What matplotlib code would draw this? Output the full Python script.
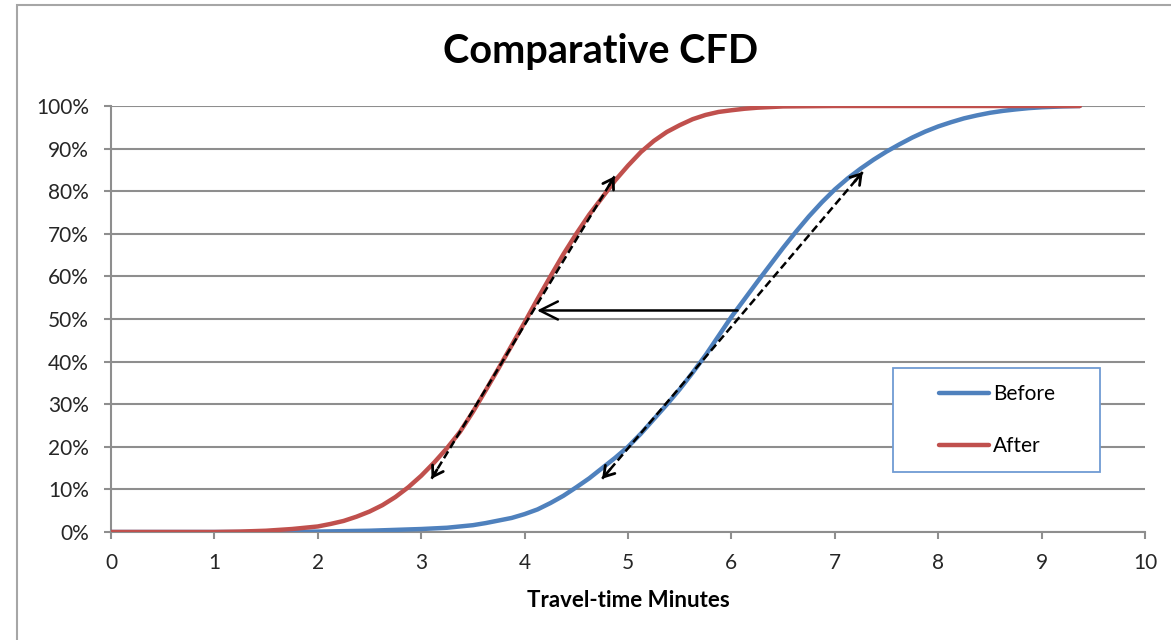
import numpy as np
import matplotlib
matplotlib.use('Agg')
import matplotlib.pyplot as plt
from matplotlib.patches import Rectangle
from matplotlib.ticker import PercentFormatter

# travel time (minutes) vs cumulative share (%)
before_t = [0, 1.0, 1.5, 2.0, 2.5, 3.0, 3.25, 3.5, 3.625, 3.75, 3.875, 4.0, 4.125,
            4.25, 4.375, 4.5, 4.625, 4.75, 4.875, 5.0, 5.125, 5.25, 5.375, 5.5, 5.625,
            5.75, 5.875, 6.0, 6.125, 6.25, 6.375, 6.5, 6.625, 6.75, 6.875, 7.0, 7.125,
            7.25, 7.375, 7.5, 7.625, 7.75, 7.875, 8.0, 8.125, 8.25, 8.375, 8.5, 8.625,
            8.75, 8.875, 9.0, 9.2, 9.37]
before_pct = [0, 0, 0, 0.1, 0.3, 0.7, 1.0, 1.6, 2.1, 2.7, 3.3, 4.2, 5.3,
              6.8, 8.5, 10.5, 12.6, 15, 17.4, 20, 23.1, 26.5, 29.9, 33.5, 37.4,
              41.5, 46.0, 50.5, 54.6, 58.7, 62.7, 66.7, 70.5, 74.1, 77.4, 80.4, 83.0,
              85.3, 87.4, 89.3, 91.0, 92.6, 94.0, 95.2, 96.2, 97.1, 97.8, 98.4, 98.85,
              99.2, 99.5, 99.7, 99.9, 100]

after_t = [0, 1.0, 1.25, 1.5, 1.75, 2.0, 2.125, 2.25, 2.375, 2.5, 2.625, 2.75, 2.875,
           3.0, 3.125, 3.25, 3.375, 3.5, 3.625, 3.75, 3.875, 4.0, 4.125, 4.25, 4.375,
           4.5, 4.625, 4.75, 4.875, 5.0, 5.125, 5.25, 5.375, 5.5, 5.625, 5.75, 5.875,
           6.0, 6.125, 6.25, 6.5, 7.0, 8.0, 9.37]
after_pct = [0, 0, 0.1, 0.3, 0.7, 1.3, 1.9, 2.6, 3.6, 4.8, 6.3, 8.2, 10.5,
             13.2, 16.3, 19.7, 23.5, 28.2, 33.3, 38.5, 43.8, 49.2, 54.7, 60, 65.2,
             70, 74.5, 78.5, 82.5, 86.0, 89.2, 91.8, 93.9, 95.5, 96.9, 97.9, 98.6,
             99.0, 99.35, 99.6, 99.9, 100, 100, 100]

# annotation arrows (x in minutes, y in %)
after_span = [(3.10, 12.5), (4.87, 83.5)]
before_span = [(4.75, 12.5), (7.27, 84.5)]
shift = [(6.06, 52.0), (4.12, 52.0)]

x_ticks = list(range(0, 11))
y_ticks = list(range(0, 101, 10))

BLUE = '#4F81BD'
RED = '#C0504D'
GRID = '#8E8E8E'
FONT = 'Lato'

plt.rcParams['font.family'] = [FONT, 'DejaVu Sans']

fig = plt.figure(figsize=(11.71, 6.40), dpi=100, facecolor='white')
ax = fig.add_axes([111 / 1171, 1 - 532 / 640, 1034 / 1171, 426 / 640])

# outer chart-area border
fig.patches.append(Rectangle((17 / 1171, -0.05), 1.2, 1.05 - 5 / 640,
                             transform=fig.transFigure, fill=False,
                             edgecolor='#A6A6A6', lw=1.5, zorder=0))

ax.plot(before_t, before_pct, color=BLUE, lw=3.2, solid_capstyle='round',
        solid_joinstyle='round', zorder=3)
ax.plot(after_t, after_pct, color=RED, lw=3.2, solid_capstyle='round',
        solid_joinstyle='round', zorder=4)

# dashed double arrows along the steep parts
for (x0, y0), (x1, y1) in (after_span, before_span):
    ax.plot([x0, x1], [y0, y1], color='black', lw=1.8, dashes=(3.2, 1.6), zorder=5)
    for (xa, ya), (xb, yb) in (((x0, y0), (x1, y1)), ((x1, y1), (x0, y0))):
        ax.annotate('', xy=(xb, yb), xytext=(xb - 0.03 * (xb - xa), yb - 0.03 * (yb - ya)),
                    arrowprops=dict(arrowstyle='->,head_length=0.7,head_width=0.45',
                                    color='black', lw=2.0, shrinkA=0, shrinkB=0),
                    zorder=6)

# horizontal shift arrow at the median
ax.annotate('', xy=shift[1], xytext=shift[0],
            arrowprops=dict(arrowstyle='->,head_length=1.3,head_width=0.65',
                            color='black', lw=1.8, shrinkA=0, shrinkB=0),
            zorder=6)

ax.set_xlim(0, 10)
ax.set_ylim(0, 100)
ax.set_xticks(x_ticks)
ax.set_yticks(y_ticks)
ax.yaxis.set_major_formatter(PercentFormatter(100, decimals=0))
ax.grid(axis='y', color=GRID, lw=1.5, zorder=1)
ax.set_axisbelow(True)
for side in ('top', 'right'):
    ax.spines[side].set_visible(False)
for side in ('left', 'bottom'):
    ax.spines[side].set_color(GRID)
    ax.spines[side].set_linewidth(1.5)
ax.tick_params(axis='both', direction='out', length=5, width=1.5, color=GRID,
               labelsize=15, labelcolor='#262626')
ax.tick_params(axis='y', pad=11)
ax.tick_params(axis='x', pad=10)

ax.set_xlabel('Travel-time Minutes', fontsize=16, fontweight='bold', color='black')
ax.xaxis.set_label_coords(0.5, (532 - 607) / 426)
ax.xaxis.label.set_verticalalignment('baseline')

fig.text(601 / 1171, 1 - 63 / 640, 'Comparative CFD', ha='center', va='baseline',
         fontsize=28.5, fontweight='bold', color='black')

# legend box
ax.add_patch(Rectangle(((893 - 111) / 1034, (532 - 472) / 426), 207 / 1034, 104 / 426,
                       transform=ax.transAxes, facecolor='white', edgecolor='#6F9BD3',
                       lw=1.3, zorder=7))
leg = ax.legend(['Before', 'After'], loc='center',
                bbox_to_anchor=((997 - 111) / 1034, (532 - 420) / 426),
                frameon=False, fontsize=15, handlelength=2.4, handletextpad=0.2,
                labelspacing=1.55)
leg.set_zorder(8)

fig.savefig('out.png', dpi=100, facecolor='white')
